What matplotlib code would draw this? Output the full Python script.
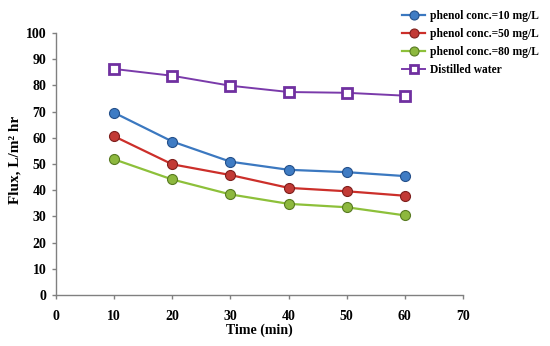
import matplotlib
matplotlib.use("Agg")
import matplotlib.pyplot as plt

# Data
time_min = [10, 20, 30, 40, 50, 60]
flux_10 = [69.6, 58.6, 50.9, 47.8, 46.9, 45.4]
flux_50 = [60.6, 49.9, 45.8, 40.9, 39.6, 37.9]
flux_80 = [51.8, 44.1, 38.4, 34.8, 33.5, 30.4]
flux_water = [86.3, 83.7, 79.9, 77.5, 77.2, 76.1]

plt.rcParams['font.family'] = ['Liberation Serif', 'DejaVu Serif']
plt.rcParams['font.weight'] = 'bold'

fig = plt.figure(figsize=(5.5, 3.46), dpi=100)
ax = fig.add_axes([0.1018, 0.1474, 0.74, 0.757])

ax.plot(time_min, flux_10, color='#3b78c0', lw=1.6, marker='o', ms=7.2,
        mfc='#3f7cc4', mec='#24508a', mew=0.8, label='phenol conc.=10 mg/L')
ax.plot(time_min, flux_50, color='#cc2f2a', lw=1.6, marker='o', ms=7.2,
        mfc='#c23a35', mec='#7e1f1c', mew=0.8, label='phenol conc.=50 mg/L')
ax.plot(time_min, flux_80, color='#8dc03a', lw=1.6, marker='o', ms=7.2,
        mfc='#8db83e', mec='#587a22', mew=0.8, label='phenol conc.=80 mg/L')
ax.plot(time_min, flux_water, color='#7a3aaa', lw=1.4, marker='s', ms=6.5,
        mfc='white', mec='#7030a0', mew=2.0, label='Distilled water')

ax.set_xlim(0, 70)
ax.set_ylim(0, 100)
ax.set_xticks(range(0, 71, 10))
ax.set_yticks(range(0, 101, 10))

for side in ['top', 'right']:
    ax.spines[side].set_visible(False)
for side in ['left', 'bottom']:
    ax.spines[side].set_color('#808080')
    ax.spines[side].set_linewidth(1.0)
ax.tick_params(axis='both', direction='out', length=3, width=1.0,
               color='#808080', labelsize=10)
ax.tick_params(axis='x', pad=8)
ax.tick_params(axis='y', pad=4)
for lab in ax.get_xticklabels() + ax.get_yticklabels():
    lab.set_fontweight('bold')

ax.set_xlabel('Time (min)', fontsize=10, fontweight='bold')
ax.set_ylabel('Flux, L/m² hr', fontsize=11, fontweight='bold')
ax.xaxis.set_label_coords(0.5, -0.135)
ax.yaxis.set_label_coords(-0.1, 0.515)
ax.xaxis.label.set_va('center')
ax.yaxis.label.set_va('center')

fig.legend(loc='upper right', bbox_to_anchor=(0.998, 1.0), frameon=False,
           prop={'size': 8.3, 'weight': 'bold'}, handlelength=2.0,
           handletextpad=0.4, labelspacing=0.52, markerscale=0.9)

fig.savefig('out.png', dpi=100)
